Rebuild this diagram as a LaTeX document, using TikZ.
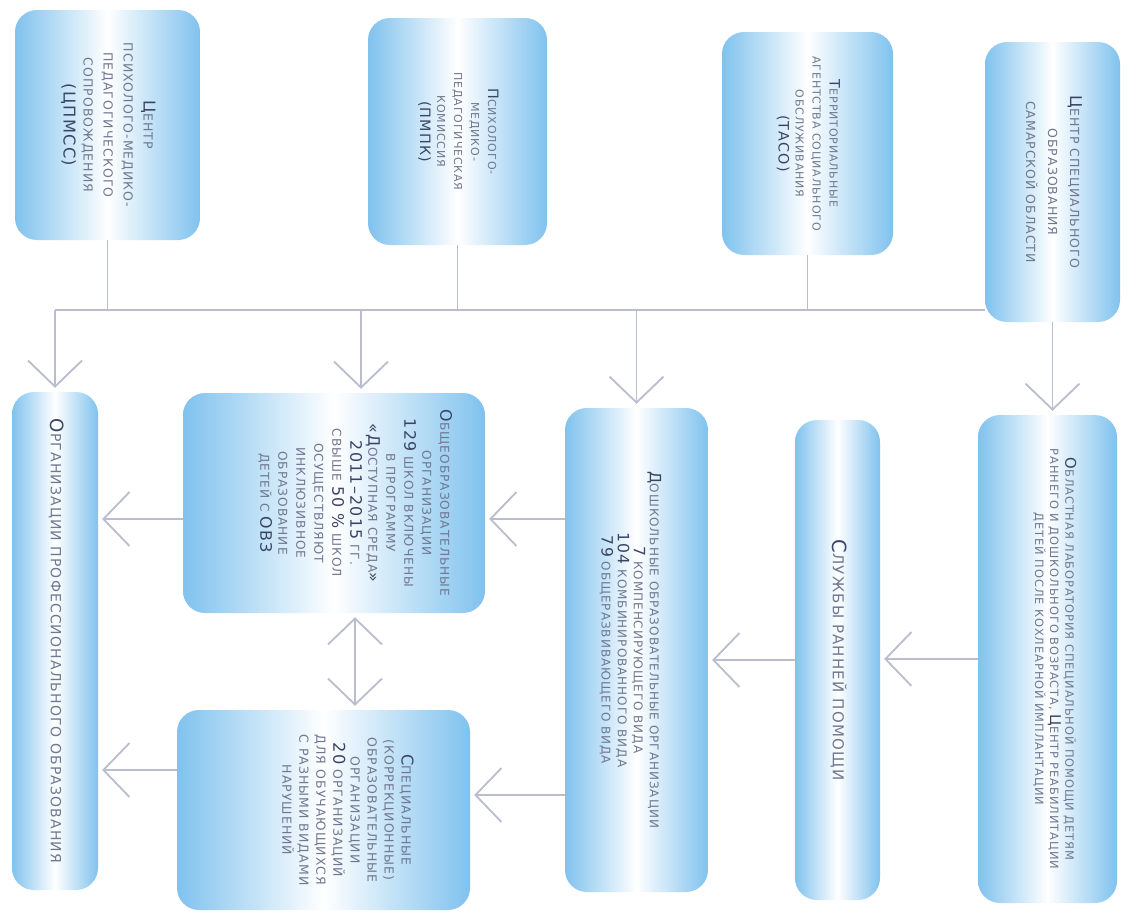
\documentclass[tikz,border=0pt]{standalone}
\usepackage{fontspec}
\setmainfont{DejaVu Sans}[LetterSpace=8.0]
\usetikzlibrary{arrows.meta}
\definecolor{boxblue}{RGB}{128,194,238}
\definecolor{linegray}{RGB}{186,189,206}
\definecolor{txt}{RGB}{112,120,145}
\definecolor{txtd}{RGB}{58,68,100}
\def\bgsize{11}
\newcommand\bg[1]{{\fontsize{\fpeval{1.3*\bgsize}}{\fpeval{1.3*\bgsize}}\selectfont\color{txtd}#1}}
\newcommand\rtxt[3]{\def\bgsize{#1}\rotatebox{-90}{\fontsize{#1}{#2}\selectfont\color{txt}\begin{tabular}{@{}c@{}}#3\end{tabular}}}
\tikzset{
  box/.style={rounded corners=22pt, left color=boxblue, right color=boxblue, middle color=white, draw=none, inner sep=0pt, align=center},
  conn/.style={draw=linegray, line width=1.8pt},
  arr/.style={conn, shorten >=4pt, -{Straight Barb[length=26pt,width=54pt]}},
  darr/.style={conn, shorten >=4pt, shorten <=4pt, {Straight Barb[length=26pt,width=54pt]}-{Straight Barb[length=26pt,width=54pt]}}
}
\begin{document}
\begin{tikzpicture}[x=1pt,y={(0pt,-1pt)}]
\useasboundingbox (0,0) rectangle (1127,919);
\fill[white] (0,0) rectangle (1127,919);
% top row
\node[box, minimum width=185pt, minimum height=230pt] (b1) at (107.5,125)
  {\rtxt{12.5}{20}{\bg{Ц}ЕНТР\\ПСИХОЛОГО-МЕДИКО-\\ПЕДАГОГИЧЕСКОГО\\СОПРОВОЖДЕНИЯ\\\bg{(ЦПМСС)}}};
\node[box, minimum width=179pt, minimum height=227pt] (b2) at (457.5,131.5)
  {\rtxt{11}{17}{\bg{П}СИХОЛОГО-\\МЕДИКО-\\ПЕДАГОГИЧЕСКАЯ\\КОМИССИЯ\\\bg{(ПМПК)}}};
\node[box, minimum width=171pt, minimum height=223pt] (b3) at (807.5,143.5)
  {\rtxt{11}{17}{\bg{Т}ЕРРИТОРИАЛЬНЫЕ\\АГЕНТСТВА СОЦИАЛЬНОГО\\ОБСЛУЖИВАНИЯ\\\bg{(ТАСО)}}};
\node[box, minimum width=135pt, minimum height=280pt] (b4) at (1052.5,182)
  {\rtxt{12.5}{22}{\bg{Ц}ЕНТР СПЕЦИАЛЬНОГО\\ОБРАЗОВАНИЯ\\САМАРСКОЙ ОБЛАСТИ}};
% lower row
\node[box, minimum width=139pt, minimum height=488pt] (b5) at (1047.5,659)
  {\rtxt{11.4}{15}{\bg{О}БЛАСТНАЯ ЛАБОРАТОРИЯ СПЕЦИАЛЬНОЙ ПОМОЩИ ДЕТЯМ\\РАННЕГО И ДОШКОЛЬНОГО ВОЗРАСТА, \bg{Ц}ЕНТР РЕАБИЛИТАЦИИ\\ДЕТЕЙ ПОСЛЕ КОХЛЕАРНОЙ ИМПЛАНТАЦИИ\\[12pt]}};
\node[box, minimum width=85pt, minimum height=480pt] (b6) at (837.5,660)
  {\rtxt{15}{18}{\bg{С}ЛУЖБЫ РАННЕЙ ПОМОЩИ}};
\node[box, minimum width=143pt, minimum height=484pt] (b7) at (636.5,650)
  {\rtxt{12}{15}{\rule{0pt}{26pt}\bg{Д}ОШКОЛЬНЫЕ ОБРАЗОВАТЕЛЬНЫЕ ОРГАНИЗАЦИИ\\\bg{7} КОМПЕНСИРУЮЩЕГО ВИДА\\\bg{104} КОМБИНИРОВАННОГО ВИДА\\\bg{79} ОБЩЕРАЗВИВАЮЩЕГО ВИДА}};
\node[box, minimum width=302pt, minimum height=220pt] (b8) at (334,503)
  {\rtxt{12.2}{18}{\bg{О}БЩЕОБРАЗОВАТЕЛЬНЫЕ\\ОРГАНИЗАЦИИ\\\bg{129} ШКОЛ ВКЛЮЧЕНЫ\\В ПРОГРАММУ\\\bg{«Д}ОСТУПНАЯ СРЕДА\bg{»}\\\bg{2011–2015} ГГ.\\СВЫШЕ \bg{50 \%} ШКОЛ\\ОСУЩЕСТВЛЯЮТ\\ИНКЛЮЗИВНОЕ\\ОБРАЗОВАНИЕ\\ДЕТЕЙ С \bg{ОВЗ}\\[40pt]}};
\node[box, minimum width=293pt, minimum height=200pt] (b9) at (323.5,810)
  {\rtxt{12.5}{17}{\bg{С}ПЕЦИАЛЬНЫЕ\\(КОРРЕКЦИОННЫЕ)\\ОБРАЗОВАТЕЛЬНЫЕ\\ОРГАНИЗАЦИИ\\\bg{20} ОРГАНИЗАЦИЙ\\ДЛЯ ОБУЧАЮЩИХСЯ\\С РАЗНЫМИ ВИДАМИ\\НАРУШЕНИЙ\\[44pt]}};
\node[box, minimum width=86pt, minimum height=498pt] (b10) at (55,641)
  {\rtxt{14}{18}{\bg{О}РГАНИЗАЦИИ ПРОФЕССИОНАЛЬНОГО ОБРАЗОВАНИЯ}};
% bus
\coordinate (busL) at (55,310);
\coordinate (d8) at (361,310);
\coordinate (r8) at (0,519);
\coordinate (r9) at (0,795);
\coordinate (r10) at (0,770);
\coordinate (cv) at (355,0);
\draw[conn] (b1.south) -- (b1.south |- busL);
\draw[conn] (b2.south) -- (b2.south |- busL);
\draw[conn] (b3.south) -- (b3.south |- busL);
\draw[conn] (busL) -- (b4.west |- busL);
\draw[arr] (busL) -- (b10.north);
\draw[arr] (d8) -- (d8 |- b8.north);
\draw[arr] (b7.north |- busL) -- (b7.north);
\draw[arr] (b4.south) -- (b4.south |- b5.north);
% horizontal arrows
\draw[arr] (b5.west) -- (b5.west -| b6.east);
\draw[arr] (b6.west) -- (b6.west -| b7.east);
\draw[arr] (b7.west |- r8) -- (b8.east |- r8);
\draw[arr] (b7.west |- r9) -- (b9.east |- r9);
\draw[arr] (b8.west |- r8) -- (b10.east |- r8);
\draw[arr] (b9.west |- r10) -- (b10.east |- r10);
\draw[darr] (b8.south -| cv) -- (b9.north -| cv);
\end{tikzpicture}
\end{document}
